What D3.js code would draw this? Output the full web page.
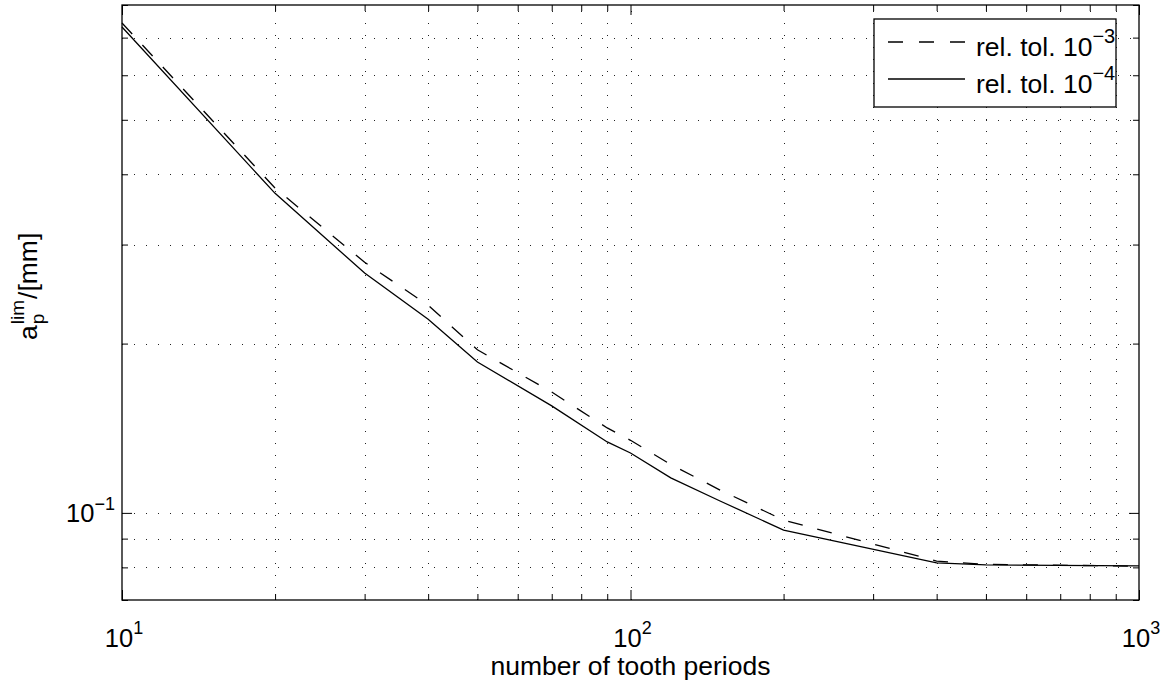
<!DOCTYPE html>
<html>
<head>
<meta charset="utf-8">
<script src="https://cdn.jsdelivr.net/npm/d3@7"></script>
<style>
  body { margin: 0; background: #fff; }
  svg { display: block; font-family: "Liberation Sans", Arial, Helvetica, sans-serif; }
</style>
</head>
<body>
<svg id="chart" width="1169" height="682"></svg>
<script>
// values
const periods = [10, 20, 30, 40, 50, 70, 90, 100, 120, 150, 200, 400, 500, 1000];
const tol3 = [0.743, 0.378, 0.279, 0.234, 0.195, 0.164, 0.1416, 0.1346, 0.1219, 0.1098, 0.0971, 0.0821, 0.0810, 0.0804];
const tol4 = [0.731, 0.370, 0.267, 0.221, 0.1855, 0.155, 0.1337, 0.1278, 0.1154, 0.1050, 0.0932, 0.0815, 0.0808, 0.0805];
const seriesNames = ['rel. tol. 10', 'rel. tol. 10'];
const seriesExp = ['\u22123', '\u22124'];
const xMajor = [10, 100, 1000];
const xMajorExp = ['1', '2', '3'];
const yMajor = [0.1];
const yMajorExp = ['\u22121'];
const xDomain = [10, 1000];
const yDomain = [0.07, 0.8];

const svg = d3.select('#chart');
const margin = { top: 5, right: 30, bottom: 82, left: 122 };
const width = +svg.attr('width') - margin.left - margin.right;
const height = +svg.attr('height') - margin.top - margin.bottom;

const g = svg.append('g').attr('transform', `translate(${margin.left},${margin.top})`);

const x = d3.scaleLog().domain(xDomain).range([0, width]);
const y = d3.scaleLog().domain(yDomain).range([height, 0]);

// 1..9 times each power of ten inside the domain
const decadeTicks = (lo, hi) => {
  const out = [];
  for (let p = Math.floor(Math.log10(lo)); p <= Math.ceil(Math.log10(hi)); p++) {
    for (let k = 1; k < 10; k++) {
      const v = k * Math.pow(10, p);
      if (v >= lo * 0.9999 && v <= hi * 1.0001) out.push(v);
    }
  }
  return out;
};
const xAll = decadeTicks(xDomain[0], xDomain[1]);
const yAll = decadeTicks(yDomain[0], yDomain[1]);
const isMajor = v => Math.abs(Math.log10(v) - Math.round(Math.log10(v))) < 1e-9;
const xMinor = xAll.filter(v => !isMajor(v));
const yMinor = yAll.filter(v => !isMajor(v));

// dotted grid
const grid = g.append('g').attr('stroke', '#222').attr('stroke-width', 1).attr('stroke-dasharray', '1,11');
grid.selectAll('.gx').data(xAll.filter(v => v > xDomain[0] && v < xDomain[1])).enter().append('line')
  .attr('x1', d => Math.round(x(d)) + 0.5).attr('x2', d => Math.round(x(d)) + 0.5)
  .attr('y1', height).attr('y2', 0);
grid.selectAll('.gy').data(yAll.filter(v => v > yDomain[0] && v < yDomain[1])).enter().append('line')
  .attr('y1', d => Math.round(y(d)) + 0.5).attr('y2', d => Math.round(y(d)) + 0.5)
  .attr('x1', 0).attr('x2', width);

// ticks on all four sides, pointing inward
const addAxis = (axisFn, scale, values, size, transform) => {
  const a = g.append('g')
    .attr('transform', transform)
    .call(axisFn(scale).tickValues(values).tickSize(-size).tickFormat(''));
  a.select('.domain').remove();
  a.selectAll('line').attr('stroke', '#000');
};
addAxis(d3.axisBottom, x, xMajor, 10, `translate(0,${height})`);
addAxis(d3.axisBottom, x, xMinor, 6, `translate(0,${height})`);
addAxis(d3.axisTop, x, xMajor, 10, 'translate(0,0)');
addAxis(d3.axisTop, x, xMinor, 6, 'translate(0,0)');
addAxis(d3.axisLeft, y, yMajor, 10, 'translate(0,0)');
addAxis(d3.axisLeft, y, yMinor, 6, 'translate(0,0)');
addAxis(d3.axisRight, y, yMajor, 10, `translate(${width},0)`);
addAxis(d3.axisRight, y, yMinor, 6, `translate(${width},0)`);

// frame
g.append('rect').attr('x', 0).attr('y', 0).attr('width', width).attr('height', height)
  .attr('fill', 'none').attr('stroke', '#000').attr('stroke-width', 1.3);

// curves
const line = d3.line().x(d => x(d[0])).y(d => y(d[1]));
g.append('path').datum(periods.map((p, i) => [p, tol3[i]]))
  .attr('d', line).attr('fill', 'none').attr('stroke', '#000').attr('stroke-width', 1.3)
  .attr('stroke-dasharray', '15,15');
g.append('path').datum(periods.map((p, i) => [p, tol4[i]]))
  .attr('d', line).attr('fill', 'none').attr('stroke', '#000').attr('stroke-width', 1.3);

// tick labels with superscripts
const fs = 25.5, sup = 18;
xMajor.forEach((v, i) => {
  const t = svg.append('text')
    .attr('x', margin.left + x(v) + 2).attr('y', margin.top + height + 47)
    .attr('text-anchor', 'middle').attr('font-size', fs).attr('fill', '#000');
  t.append('tspan').text('10');
  t.append('tspan').attr('font-size', sup).attr('dy', -13).text(xMajorExp[i]);
});
yMajor.forEach((v, i) => {
  const t = svg.append('text')
    .attr('x', margin.left - 7).attr('y', margin.top + y(v) + 9)
    .attr('text-anchor', 'end').attr('font-size', fs).attr('fill', '#000');
  t.append('tspan').text('10');
  t.append('tspan').attr('font-size', sup).attr('dy', -12).text(yMajorExp[i]);
});

// x label
svg.append('text')
  .attr('x', margin.left + width / 2).attr('y', margin.top + height + 75)
  .attr('text-anchor', 'middle').attr('font-size', 26.5).attr('fill', '#000')
  .text('number of tooth periods');

// y label: a with sub p and sup lim stacked, then /[mm]
const yl = svg.append('g').attr('transform', `translate(37,340) rotate(-90)`);
const aT = yl.append('text').attr('font-size', 26.5).text('a');
const aW = aT.node().getComputedTextLength();
const pT = yl.append('text').attr('font-size', 19).attr('x', aW + 1).attr('y', 7).text('p');
const lT = yl.append('text').attr('font-size', 19).attr('x', aW + 1).attr('y', -13).text('lim');
const sW = Math.max(pT.node().getComputedTextLength(), lT.node().getComputedTextLength());
yl.append('text').attr('font-size', 26.5).attr('x', aW + sW + 2).text('/[mm]');
yl.selectAll('text').attr('fill', '#000');

// legend
const lg = svg.append('g').attr('transform', 'translate(874,19)');
lg.append('rect').attr('width', 242).attr('height', 88)
  .attr('fill', '#fff').attr('stroke', '#000').attr('stroke-width', 1.3);
const rows = [
  { dash: '15,16', ly: 23, ty: 37 },
  { dash: null, ly: 60, ty: 74 }
];
rows.forEach((r, i) => {
  lg.append('line').attr('x1', 14).attr('x2', 91).attr('y1', r.ly).attr('y2', r.ly)
    .attr('stroke', '#000').attr('stroke-width', 1.3)
    .attr('stroke-dasharray', r.dash);
  const t = lg.append('text').attr('x', 102).attr('y', r.ty).attr('font-size', 26.5).attr('fill', '#000');
  t.append('tspan').text(seriesNames[i]);
  t.append('tspan').attr('font-size', 20).attr('dy', -13).text(seriesExp[i]);
});
</script>
</body>
</html>
